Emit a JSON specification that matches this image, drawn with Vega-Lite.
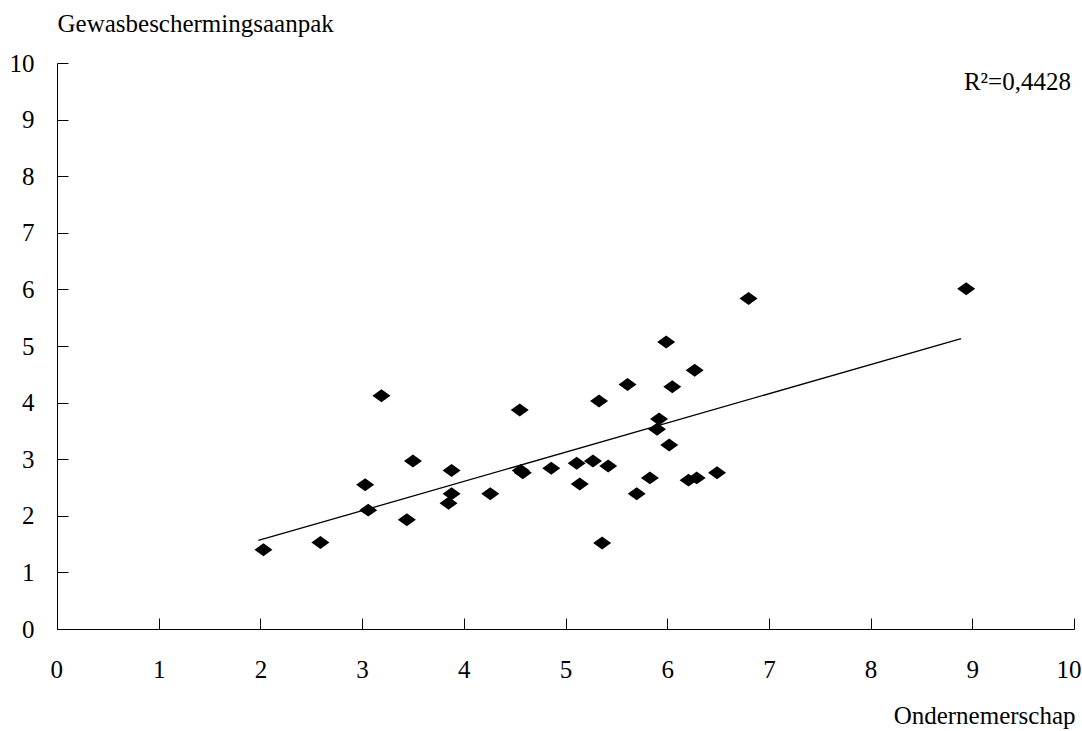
{
  "$schema": "https://vega.github.io/schema/vega-lite/v6.json",
  "width": 1017,
  "height": 566,
  "autosize": "none",
  "padding": {"left": 57, "top": 63, "right": 8, "bottom": 102},
  "background": "white",
  "config": {
    "view": {"stroke": null},
    "font": "Liberation Serif",
    "axis": {
      "grid": false,
      "domainColor": "black",
      "domainWidth": 1,
      "tickColor": "black",
      "tickWidth": 1,
      "labelColor": "black",
      "labelFont": "Liberation Serif",
      "labelFontSize": 25,
      "titleFont": "Liberation Serif",
      "titleFontSize": 25,
      "titleFontWeight": "normal",
      "titleColor": "black",
      "labelOverlap": false,
      "format": "d"
    }
  },
  "data": {
    "values": [
      {"x": 2.03, "y": 1.40},
      {"x": 2.59, "y": 1.53},
      {"x": 3.03, "y": 2.55},
      {"x": 3.06, "y": 2.10},
      {"x": 3.19, "y": 4.12},
      {"x": 3.44, "y": 1.93},
      {"x": 3.50, "y": 2.97},
      {"x": 3.88, "y": 2.80},
      {"x": 3.88, "y": 2.39},
      {"x": 3.85, "y": 2.22},
      {"x": 4.26, "y": 2.39},
      {"x": 4.55, "y": 3.87},
      {"x": 4.56, "y": 2.80},
      {"x": 4.58, "y": 2.76},
      {"x": 4.86, "y": 2.84},
      {"x": 5.11, "y": 2.93},
      {"x": 5.14, "y": 2.56},
      {"x": 5.27, "y": 2.97},
      {"x": 5.33, "y": 4.03},
      {"x": 5.36, "y": 1.52},
      {"x": 5.42, "y": 2.88},
      {"x": 5.61, "y": 4.32},
      {"x": 5.70, "y": 2.39},
      {"x": 5.83, "y": 2.67},
      {"x": 5.90, "y": 3.53},
      {"x": 5.92, "y": 3.71},
      {"x": 5.99, "y": 5.07},
      {"x": 6.02, "y": 3.25},
      {"x": 6.05, "y": 4.28},
      {"x": 6.21, "y": 2.63},
      {"x": 6.27, "y": 4.57},
      {"x": 6.29, "y": 2.67},
      {"x": 6.49, "y": 2.76},
      {"x": 6.80, "y": 5.84},
      {"x": 8.94, "y": 6.01}
    ]
  },
  "layer": [
    {
      "mark": {"type": "point", "shape": "M-1,0L0,-0.72L1,0L0,0.72Z", "filled": true, "color": "black", "opacity": 1, "size": 324},
      "encoding": {
        "x": {
          "field": "x", "type": "quantitative",
          "scale": {"domain": [0, 10], "nice": false, "zero": true},
          "axis": {
            "values": [0, 1, 2, 3, 4, 5, 6, 7, 8, 9, 10],
            "format": "d",
            "tickSize": -11,
            "labelPadding": 39,
            "labelFlush": true,
            "labelFlushOffset": 7,
            "title": "Ondernemerschap",
            "titleX": 1018,
            "titleY": 94.5,
            "titleAlign": "right",
            "titleBaseline": "alphabetic",
            "titleAnchor": null
          }
        },
        "y": {
          "field": "y", "type": "quantitative",
          "scale": {"domain": [0, 10], "nice": false, "zero": true},
          "axis": {
            "values": [0, 1, 2, 3, 4, 5, 6, 7, 8, 9, 10],
            "format": "d",
            "tickSize": -11,
            "labelPadding": 34,
            "labelFlush": false,
            "title": "Gewasbeschermingsaanpak",
            "titleAngle": 0,
            "titleX": 0,
            "titleY": -31.5,
            "titleAlign": "left",
            "titleBaseline": "alphabetic",
            "titleAnchor": null
          }
        }
      }
    },
    {
      "transform": [{"regression": "y", "on": "x", "extent": [1.98, 8.89]}],
      "mark": {"type": "line", "color": "black", "strokeWidth": 1.3},
      "encoding": {
        "x": {"field": "x", "type": "quantitative"},
        "y": {"field": "y", "type": "quantitative"}
      }
    },
    {
      "data": {"values": [{"label": "R²=0,4428", "x": 9.97, "y": 9.66}]},
      "mark": {"type": "text", "align": "right", "baseline": "middle", "fontSize": 25, "font": "Liberation Serif", "color": "black"},
      "encoding": {
        "x": {"field": "x", "type": "quantitative"},
        "y": {"field": "y", "type": "quantitative"},
        "text": {"field": "label"}
      }
    }
  ]
}
